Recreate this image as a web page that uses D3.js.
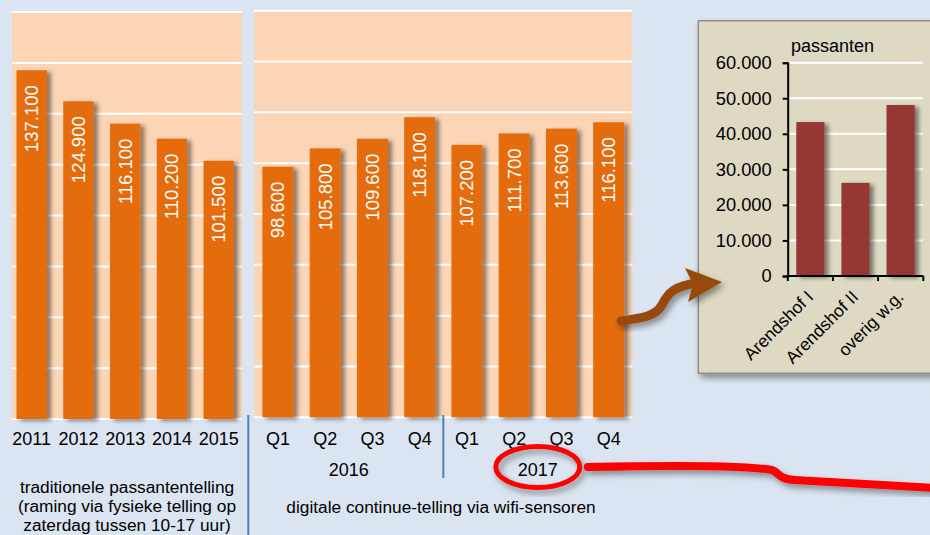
<!DOCTYPE html>
<html><head><meta charset="utf-8">
<script src="https://cdn.jsdelivr.net/npm/d3@7"></script>
<style>
html,body{margin:0;padding:0;background:#DBE5F1;}
svg{display:block;font-family:"Liberation Sans",Arial,sans-serif;}
</style></head>
<body>
<svg id="chart" width="930" height="535"></svg>
<script>
// ---- data ----
const years = ["2011","2012","2013","2014","2015"];
const yearValues = [137100,124900,116100,110200,101500];
const quarters = ["Q1","Q2","Q3","Q4","Q1","Q2","Q3","Q4"];
const quarterYears = ["2016","2016","2016","2016","2017","2017","2017","2017"];
const quarterValues = [98600,105800,109600,118100,107200,111700,113600,116100];
const mainTicks = [0,20000,40000,60000,80000,100000,120000,140000,160000];
const insetCategories = ["Arendshof I","Arendshof II","overig w.g."];
const insetValues = [43300,26200,48100];
const insetTicks = [0,10000,20000,30000,40000,50000,60000];
const insetTitle = "passanten";
const leftNote = ["traditionele passantentelling","(raming via fysieke telling op","zaterdag tussen 10-17 uur)"];
const rightNote = "digitale continue-telling via wifi-sensoren";

const nl = d3.formatLocale({decimal:",",thousands:".",grouping:[3],currency:["€",""]});
const fmt = nl.format(",d");

const svg = d3.select("#chart");
const defs = svg.append("defs");
const sh = defs.append("filter").attr("id","shadow").attr("x","-20%").attr("y","-20%").attr("width","160%").attr("height","140%");
sh.append("feDropShadow").attr("dx",4).attr("dy",2).attr("stdDeviation",2).attr("flood-color","#000").attr("flood-opacity",0.45);
const sh2 = defs.append("filter").attr("id","boxshadow").attr("x","-20%").attr("y","-20%").attr("width","140%").attr("height","140%");
sh2.append("feDropShadow").attr("dx",3).attr("dy",4).attr("stdDeviation",3).attr("flood-color","#000").attr("flood-opacity",0.4);

const peach = "#FBD5B5", orange = "#E46C0A";

// ---- left panel ----
const yL = d3.scaleLinear().domain([0,160000]).range([419,12]);
const xL = d3.scaleBand().domain(years).range([8.3,242.1]).paddingInner(0.35).paddingOuter(0.175);
svg.append("rect").attr("x",12).attr("y",yL(160000)).attr("width",229.7).attr("height",yL(0)-yL(160000)).attr("fill",peach);
svg.append("g").selectAll("line").data(mainTicks).join("line")
  .attr("x1",12).attr("x2",241.7).attr("y1",d=>yL(d)).attr("y2",d=>yL(d))
  .attr("stroke","#fff").attr("stroke-width",2);
const gL = svg.append("g");
gL.selectAll("rect").data(years).join("rect")
  .attr("x",d=>xL(d)).attr("width",xL.bandwidth())
  .attr("y",(d,i)=>yL(yearValues[i])).attr("height",(d,i)=>yL(0)-yL(yearValues[i]))
  .attr("fill",orange).attr("filter","url(#shadow)");
gL.selectAll("text.v").data(years).join("text").attr("class","v")
  .attr("transform",(d,i)=>`translate(${xL(d)+xL.bandwidth()/2+6.5},${yL(yearValues[i])+15}) rotate(-90)`)
  .attr("text-anchor","end").attr("fill","#fff").attr("font-size",18.5)
  .text((d,i)=>fmt(yearValues[i]));
gL.selectAll("text.t").data(years).join("text").attr("class","t")
  .attr("x",d=>xL(d)+xL.bandwidth()/2).attr("y",445).attr("text-anchor","middle")
  .attr("font-size",18).attr("fill","#000").text(d=>d);

// ---- right panel ----
const yR = d3.scaleLinear().domain([0,160000]).range([417.3,10.7]);
const idx = d3.range(quarters.length);
const xR = d3.scaleBand().domain(idx).range([254.3,632.3]).paddingInner(0.344).paddingOuter(0.172);
svg.append("rect").attr("x",254.3).attr("y",yR(160000)).attr("width",378).attr("height",yR(0)-yR(160000)).attr("fill",peach);
svg.append("g").selectAll("line").data(mainTicks).join("line")
  .attr("x1",254.3).attr("x2",632.3).attr("y1",d=>yR(d)).attr("y2",d=>yR(d))
  .attr("stroke","#fff").attr("stroke-width",2);
const gR = svg.append("g");
gR.selectAll("rect").data(idx).join("rect")
  .attr("x",d=>xR(d)).attr("width",xR.bandwidth())
  .attr("y",d=>yR(quarterValues[d])).attr("height",d=>yR(0)-yR(quarterValues[d]))
  .attr("fill",orange).attr("filter","url(#shadow)");
gR.selectAll("text.v").data(idx).join("text").attr("class","v")
  .attr("transform",d=>`translate(${xR(d)+xR.bandwidth()/2+6.5},${yR(quarterValues[d])+15}) rotate(-90)`)
  .attr("text-anchor","end").attr("fill","#fff").attr("font-size",18.5)
  .text(d=>fmt(quarterValues[d]));
gR.selectAll("text.t").data(idx).join("text").attr("class","t")
  .attr("x",d=>xR(d)+xR.bandwidth()/2).attr("y",445).attr("text-anchor","middle")
  .attr("font-size",18).attr("fill","#000").text(d=>quarters[d]);
const yearGroups = d3.groups(idx, d=>quarterYears[d]);
const groupCenter = g => { const a=g[1]; return (xR(a[0])+xR(a[a.length-1])+xR.bandwidth())/2; };
gR.selectAll("text.y").data(yearGroups).join("text").attr("class","y")
  .attr("x",groupCenter).attr("y",476).attr("text-anchor","middle")
  .attr("font-size",18).attr("fill","#000").text(g=>g[0]);

// separators
svg.append("line").attr("x1",248.3).attr("x2",248.3).attr("y1",415).attr("y2",535).attr("stroke","#4F81BD").attr("stroke-width",2);
const sepX = (xR(3)+xR.bandwidth()+xR(4))/2;
svg.append("line").attr("x1",sepX).attr("x2",sepX).attr("y1",415).attr("y2",478).attr("stroke","#4F81BD").attr("stroke-width",2);

// notes
svg.append("g").selectAll("text").data(leftNote).join("text")
  .attr("x",127).attr("y",(d,i)=>492.5+i*19.2).attr("text-anchor","middle")
  .attr("font-size",17.3).attr("fill","#000").text(d=>d);
svg.append("text").attr("x",441).attr("y",513).attr("text-anchor","middle")
  .attr("font-size",17.3).attr("fill","#000").text(rightNote);

// ---- inset ----
svg.append("rect").attr("x",698.3).attr("y",20.7).attr("width",250).attr("height",352.6)
  .attr("fill","#DDD9C3").attr("stroke","#8C8C8C").attr("stroke-width",1.5).attr("filter","url(#boxshadow)");
const yI = d3.scaleLinear().domain([0,60000]).range([276,62.7]);
const xI = d3.scaleBand().domain(insetCategories).range([787.7,923.3]).paddingInner(0.375).paddingOuter(0.19);
svg.append("g").selectAll("line").data(insetTicks.filter(d=>d>0)).join("line")
  .attr("x1",788).attr("x2",923).attr("y1",d=>yI(d)).attr("y2",d=>yI(d))
  .attr("stroke","#fff").attr("stroke-width",2);
svg.append("g").selectAll("rect").data(insetCategories).join("rect")
  .attr("x",d=>xI(d)).attr("width",xI.bandwidth())
  .attr("y",(d,i)=>yI(insetValues[i])).attr("height",(d,i)=>yI(0)-yI(insetValues[i]))
  .attr("fill","#953735").attr("filter","url(#shadow)");
const axY = svg.append("g").attr("transform","translate(787.7,0)")
  .call(d3.axisLeft(yI).tickValues(insetTicks).tickFormat(fmt).tickSize(5).tickPadding(11));
axY.select(".domain").attr("stroke","#000").attr("stroke-width",2);
axY.selectAll(".tick line").attr("stroke","#000").attr("stroke-width",2);
axY.selectAll(".tick text").attr("font-size",18.3).attr("fill","#000").attr("font-family","Liberation Sans, Arial, sans-serif");
const bounds = insetCategories.map(d=>xI(d)-xI.step()*xI.paddingInner()/2).concat([923.3]);
svg.append("line").attr("x1",787.7).attr("x2",923.3).attr("y1",yI(0)).attr("y2",yI(0)).attr("stroke","#000").attr("stroke-width",2);
svg.append("g").selectAll("line").data(bounds).join("line")
  .attr("x1",d=>d).attr("x2",d=>d).attr("y1",yI(0)).attr("y2",yI(0)+5).attr("stroke","#000").attr("stroke-width",2);
svg.append("g").selectAll("text").data(insetCategories).join("text")
  .attr("transform",d=>`translate(${xI(d)+xI.bandwidth()/2+4},${yI(0)+22}) rotate(-45)`)
  .attr("text-anchor","end").attr("font-size",17.5).attr("fill","#000").text(d=>d);
svg.append("text").attr("x",791).attr("y",52).attr("font-size",18).attr("fill","#000").text(insetTitle);

// ---- annotations ----
const arrow = svg.append("g").attr("filter","url(#boxshadow)");
arrow.append("path").attr("d","M621,321 C643,318 656,316 662,305 C668,292 676,286 696,283")
  .attr("fill","none").attr("stroke","#984807").attr("stroke-width",9).attr("stroke-linecap","round");
arrow.append("path").attr("d","M685,268 L722,282 L688,302 L693,284 Z").attr("fill","#984807");

const g2017 = yearGroups[1];
const ex = groupCenter(g2017), ey = 467;
const red = svg.append("g").attr("filter","url(#boxshadow)");
red.append("ellipse").attr("cx",ex).attr("cy",ey).attr("rx",42).attr("ry",20.5)
  .attr("fill","none").attr("stroke","#FF0000").attr("stroke-width",5);
red.append("path").attr("d",`M${ex+50},${ey} C680,465 750,466 772,470 C780,473 778,479 795,480 L935,488`)
  .attr("fill","none").attr("stroke","#FF0000").attr("stroke-width",8).attr("stroke-linecap","round").attr("stroke-linejoin","round");
</script>
</body></html>
